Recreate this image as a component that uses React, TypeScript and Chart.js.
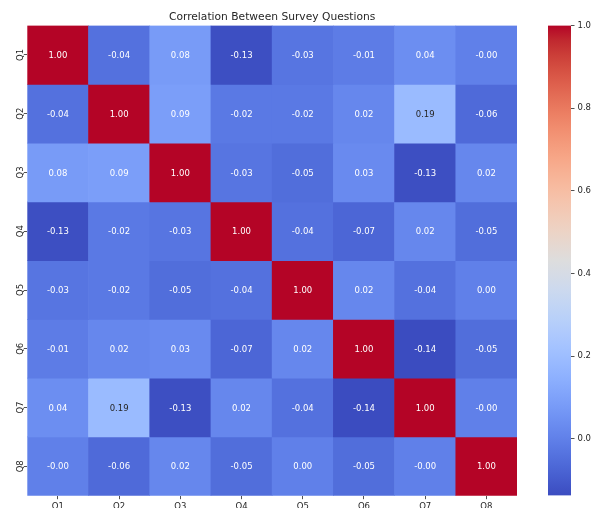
import React, { useEffect, useRef } from "react";
import { Chart, registerables } from "chart.js";

Chart.register(...registerables);

// ---------- data ----------
const questions = ["Q1", "Q2", "Q3", "Q4", "Q5", "Q6", "Q7", "Q8"];
const rowQ1 = [1.0, -0.04, 0.08, -0.13, -0.03, -0.01, 0.04, -0.0];
const rowQ2 = [-0.04, 1.0, 0.09, -0.02, -0.02, 0.02, 0.19, -0.06];
const rowQ3 = [0.08, 0.09, 1.0, -0.03, -0.05, 0.03, -0.13, 0.02];
const rowQ4 = [-0.13, -0.02, -0.03, 1.0, -0.04, -0.07, 0.02, -0.05];
const rowQ5 = [-0.03, -0.02, -0.05, -0.04, 1.0, 0.02, -0.04, 0.0];
const rowQ6 = [-0.01, 0.02, 0.03, -0.07, 0.02, 1.0, -0.14, -0.05];
const rowQ7 = [0.04, 0.19, -0.13, 0.02, -0.04, -0.14, 1.0, -0.0];
const rowQ8 = [-0.0, -0.06, 0.02, -0.05, 0.0, -0.05, -0.0, 1.0];
const matrix = [rowQ1, rowQ2, rowQ3, rowQ4, rowQ5, rowQ6, rowQ7, rowQ8];
const colorbarTicks = [0.0, 0.2, 0.4, 0.6, 0.8, 1.0];
const COLOR_MIN = -0.137;
const COLOR_MAX = 1.0;
const TITLE = "Correlation Between Survey Questions";

// ---------- styling ----------
const FONT = "'DejaVu Sans', 'Liberation Sans', sans-serif";
const TEXT_DARK = "#262626";
const W = 593;
const H = 530;

// Moreland coolwarm table (33 points)
const COOLWARM: number[][] = [
  [59, 76, 192], [68, 90, 204], [77, 104, 215], [87, 117, 225], [98, 130, 234],
  [108, 142, 241], [119, 154, 247], [130, 165, 251], [141, 176, 254], [152, 185, 255],
  [163, 194, 255], [174, 201, 253], [184, 208, 249], [194, 213, 244], [204, 217, 238],
  [213, 219, 230], [221, 221, 221], [229, 216, 209], [236, 211, 197], [241, 204, 185],
  [245, 196, 173], [247, 187, 160], [247, 177, 148], [247, 166, 135], [244, 154, 123],
  [241, 141, 111], [236, 127, 99], [229, 112, 88], [222, 96, 77], [213, 80, 66],
  [203, 62, 56], [192, 40, 47], [180, 4, 38],
];

function coolwarmRGB(t: number): number[] {
  const c = Math.max(0, Math.min(1, t)) * (COOLWARM.length - 1);
  const i = Math.min(COOLWARM.length - 2, Math.floor(c));
  const f = c - i;
  const a = COOLWARM[i];
  const b = COOLWARM[i + 1];
  return [0, 1, 2].map((k) => a[k] + (b[k] - a[k]) * f);
}
function norm(v: number) {
  return (v - COLOR_MIN) / (COLOR_MAX - COLOR_MIN);
}
function colorFor(v: number) {
  const [r, g, b] = coolwarmRGB(norm(v));
  return `rgb(${Math.round(r)},${Math.round(g)},${Math.round(b)})`;
}
function textColorFor(v: number) {
  const rgb = coolwarmRGB(norm(v)).map((x) => {
    const c = x / 255;
    return c <= 0.03928 ? c / 12.92 : Math.pow((c + 0.055) / 1.055, 2.4);
  });
  const lum = 0.2126 * rgb[0] + 0.7152 * rgb[1] + 0.0722 * rgb[2];
  return lum > 0.408 ? TEXT_DARK : "#ffffff";
}
function fmt(v: number) {
  if (Object.is(v, -0)) return "-0.00";
  return v.toFixed(2);
}

const annotatePlugin = {
  id: "annotate",
  afterDatasetsDraw(chart: any) {
    const ctx = chart.ctx;
    const size = 8.5;
    ctx.save();
    ctx.font = `${size}px ${FONT}`;
    ctx.textAlign = "center";
    ctx.textBaseline = "alphabetic";
    chart.data.datasets.forEach((_: any, r: number) => {
      const meta = chart.getDatasetMeta(r);
      meta.data.forEach((bar: any, c: number) => {
        const p = bar.getProps(["x", "y", "base"], true);
        const cy = (p.y + p.base) / 2;
        const v = matrix[r][c];
        ctx.fillStyle = textColorFor(v);
        ctx.fillText(fmt(v), p.x, cy + 0.36 * size);
      });
    });
    ctx.restore();
  },
};

export default function App() {
  const mainRef = useRef<HTMLCanvasElement | null>(null);
  const cbRef = useRef<HTMLCanvasElement | null>(null);

  useEffect(() => {
    const tickFont = { family: FONT, size: 8.5 };
    const main = new Chart(mainRef.current as HTMLCanvasElement, {
      type: "bar",
      data: {
        labels: questions,
        datasets: matrix.map((row, r) => ({
          label: questions[r],
          data: row.map(() => [r, r + 1]),
          backgroundColor: row.map((v) => colorFor(v)),
          borderWidth: 0,
          barPercentage: 1,
          categoryPercentage: 1,
          grouped: false,
        })) as any,
      },
      options: {
        animation: false,
        responsive: false,
        devicePixelRatio: 1,
        layout: { padding: { left: 0, right: W - 517, top: 0, bottom: 0 } },
        plugins: {
          legend: { display: false },
          tooltip: { enabled: false },
          title: {
            display: true,
            text: TITLE,
            fullSize: false,
            color: TEXT_DARK,
            font: { family: FONT, size: 10.7, weight: "normal" as any, lineHeight: 1.2 },
            padding: { top: 10.6, bottom: 2.1 },
          },
        },
        scales: {
          x: {
            type: "category",
            offset: true,
            grid: {
              offset: false,
              drawOnChartArea: false,
              drawTicks: true,
              tickLength: 3.5,
              tickColor: TEXT_DARK,
              tickWidth: 0.8,
            },
            border: { display: false },
            ticks: { color: TEXT_DARK, font: tickFont, padding: 2.5, maxRotation: 0, autoSkip: false },
            afterFit: (s: any) => {
              s.height = H - 495.7;
            },
          },
          y: {
            type: "linear",
            min: 0,
            max: 8,
            reverse: true,
            afterBuildTicks: (s: any) => {
              s.ticks = questions.map((_, i) => ({ value: i + 0.5 }));
            },
            afterFit: (s: any) => {
              s.width = 27.3;
            },
            grid: {
              drawOnChartArea: false,
              drawTicks: true,
              tickLength: 3.5,
              tickColor: TEXT_DARK,
              tickWidth: 0.8,
            },
            border: { display: false },
            ticks: {
              color: TEXT_DARK,
              font: tickFont,
              minRotation: 90,
              maxRotation: 90,
              crossAlign: "center",
              padding: -3.2,
              autoSkip: false,
              callback: (v: any) => questions[Math.floor(Number(v))],
            },
          },
        },
      },
      plugins: [annotatePlugin],
    } as any);

    const cb = new Chart(cbRef.current as HTMLCanvasElement, {
      type: "bar",
      data: {
        labels: ["colorbar"],
        datasets: [
          {
            data: [[COLOR_MIN, COLOR_MAX]],
            barPercentage: 1,
            categoryPercentage: 1,
            borderWidth: 0,
            backgroundColor: (ctx: any) => {
              const chart = ctx.chart;
              if (!chart.chartArea || !chart.scales.y) return "rgba(0,0,0,0)";
              const ys = chart.scales.y;
              const g = chart.ctx.createLinearGradient(
                0,
                ys.getPixelForValue(COLOR_MIN),
                0,
                ys.getPixelForValue(COLOR_MAX)
              );
              COOLWARM.forEach((c, i) => {
                g.addColorStop(i / (COOLWARM.length - 1), `rgb(${c[0]},${c[1]},${c[2]})`);
              });
              return g;
            },
          },
        ] as any,
      },
      options: {
        animation: false,
        responsive: false,
        devicePixelRatio: 1,
        layout: { padding: { left: 8, right: 0, top: 25.5, bottom: 508 - 495.5 } },
        plugins: { legend: { display: false }, tooltip: { enabled: false }, title: { display: false } },
        scales: {
          x: { display: false },
          y: {
            type: "linear",
            position: "right",
            min: COLOR_MIN,
            max: COLOR_MAX,
            afterBuildTicks: (s: any) => {
              s.ticks = colorbarTicks.map((v) => ({ value: v }));
            },
            afterFit: (s: any) => {
              s.width = 22;
            },
            grid: {
              drawOnChartArea: false,
              drawTicks: true,
              tickLength: 3.5,
              tickColor: TEXT_DARK,
              tickWidth: 0.8,
            },
            border: { display: false },
            ticks: {
              color: TEXT_DARK,
              font: { family: FONT, size: 8.5 },
              padding: 3,
              autoSkip: false,
              callback: (v: any) => Number(v).toFixed(1),
            },
          },
        },
      },
    } as any);

    return () => {
      main.destroy();
      cb.destroy();
    };
  }, []);

  return (
    <div
      style={{
        position: "fixed",
        left: 0,
        top: 0,
        width: W,
        height: 508,
        overflow: "hidden",
        background: "#ffffff",
      }}
    >
      <canvas
        ref={mainRef}
        width={W}
        height={H}
        style={{ position: "absolute", left: 0, top: 0, width: W, height: H, display: "block" }}
      />
      <canvas
        ref={cbRef}
        width={53}
        height={508}
        style={{ position: "absolute", left: 540, top: 0, width: 53, height: 508, display: "block" }}
      />
    </div>
  );
}
